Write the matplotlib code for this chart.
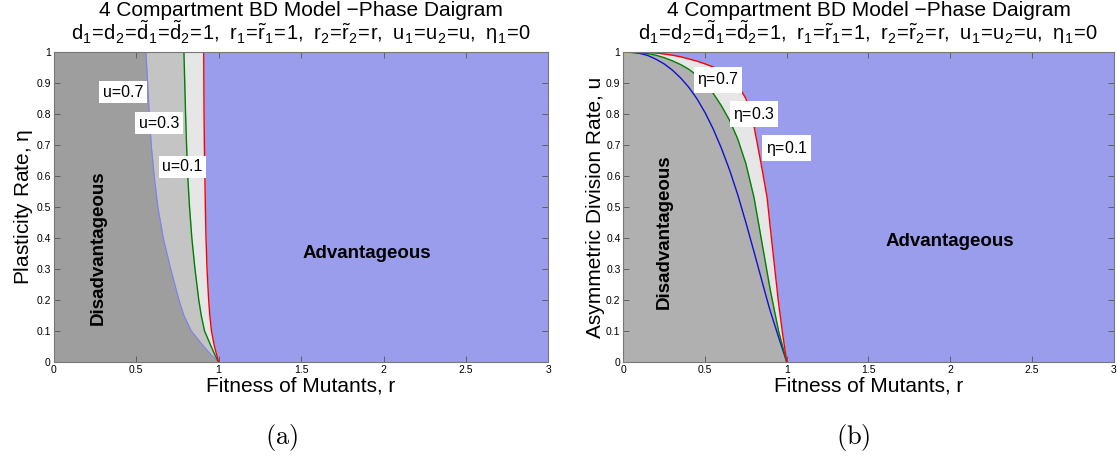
import numpy as np
import matplotlib
matplotlib.use("Agg")
import matplotlib.pyplot as plt

plt.rcParams['font.family'] = ['Liberation Sans', 'DejaVu Sans']

# ── (a) boundary r(eta) for each asymmetric division rate u ──────────────────
ETA_GRID = [0, 0.02, 0.05, 0.1, 0.15, 0.2, 0.3, 0.4, 0.5, 0.6, 0.7, 0.8, 0.9, 1.0]
R_U07 = [1.0, 0.96, 0.91, 0.835, 0.79, 0.76, 0.71, 0.665, 0.632, 0.61, 0.592, 0.58, 0.57, 0.56]
R_U03 = [1.0, 0.98, 0.955, 0.915, 0.895, 0.88, 0.857, 0.838, 0.824, 0.813, 0.806, 0.8, 0.795, 0.79]
R_U01 = [1.0, 0.99, 0.975, 0.957, 0.947, 0.94, 0.93, 0.924, 0.92, 0.917, 0.914, 0.912, 0.911, 0.91]

# ── (b) boundary u(r) for each plasticity rate eta ───────────────────────────
R_GRID = [0, 0.05, 0.1, 0.15, 0.2, 0.25, 0.3, 0.35, 0.4, 0.45, 0.5, 0.55, 0.6,
          0.65, 0.7, 0.75, 0.8, 0.85, 0.88, 0.9, 0.95, 0.975, 1.0]
U_ETA07 = [1, 0.999, 0.996, 0.989, 0.977, 0.962, 0.942, 0.917, 0.887, 0.850, 0.805,
           0.752, 0.69, 0.62, 0.54, 0.45, 0.355, 0.258, 0.20, 0.163, 0.08, 0.04, 0]
U_ETA03 = [1, 1.0, 0.998, 0.995, 0.99, 0.982, 0.972, 0.96, 0.945, 0.925, 0.90,
           0.867, 0.827, 0.78, 0.72, 0.64, 0.53, 0.38, 0.29, 0.23, 0.10, 0.05, 0]
U_ETA01 = [1, 1, 1.0, 0.999, 0.997, 0.994, 0.99, 0.985, 0.978, 0.971, 0.962,
           0.952, 0.94, 0.92, 0.895, 0.85, 0.76, 0.62, 0.53, 0.43, 0.19, 0.09, 0]

X_TICKS = [0, 0.5, 1, 1.5, 2, 2.5, 3]
X_TICKLABELS = ["0", "0.5", "1", "1.5", "2", "2.5", "3"]
Y_TICKS = [0, 0.1, 0.2, 0.3, 0.4, 0.5, 0.6, 0.7, 0.8, 0.9, 1]
Y_TICKLABELS = ["0", "0.1", "0.2", "0.3", "0.4", "0.5", "0.6", "0.7", "0.8", "0.9", "1"]

LABELS_A = ["u=0.7", "u=0.3", "u=0.1"]
LABELS_B = [r"$\mathregular{\eta}$=0.7", r"$\mathregular{\eta}$=0.3", r"$\mathregular{\eta}$=0.1"]

TITLE = "4 Compartment BD Model \u2212Phase Daigram"
SUBTITLE = (r"$\mathregular{d_1\!=\!d_2\!=\!\tilde{d}_1\!=\!\tilde{d}_2\!=\!1,\ "
            r"r_1\!=\!\tilde{r}_1\!=\!1,\ r_2\!=\!\tilde{r}_2\!=\!r,\ "
            r"u_1\!=\!u_2\!=\!u,\ \eta_1\!=\!0}$")

BLUE_BG = "#9a9cec"
LIGHT = "#e6e6e6"


def style_axes(ax, ylabel):
    ax.set_xlim(0, 3)
    ax.set_ylim(0, 1)
    ax.set_xticks(X_TICKS)
    ax.set_xticklabels(X_TICKLABELS)
    ax.set_yticks(Y_TICKS)
    ax.set_yticklabels(Y_TICKLABELS)
    ax.tick_params(direction="in", length=4, width=0.6, colors="#555555",
                   labelcolor="black", labelsize=7.5, top=True, right=True, pad=2)
    for s in ax.spines.values():
        s.set_color("#777777")
        s.set_linewidth(0.8)
    ax.set_xlabel("Fitness of Mutants, r", fontsize=15, labelpad=1)
    ax.set_ylabel(ylabel, fontsize=15, labelpad=1)
    # two-line title, each line pinned to its own baseline
    ax.text(0.5, 1.118, TITLE, transform=ax.transAxes, fontsize=15,
            ha="center", va="baseline")
    ax.text(0.5, 1.038, SUBTITLE, transform=ax.transAxes, fontsize=14.5,
            ha="center", va="baseline")


fig = plt.figure(figsize=(11.17, 4.57), dpi=100)
ax1 = fig.add_axes([0.048, 0.208, 0.443, 0.678])
ax2 = fig.add_axes([0.558, 0.208, 0.439, 0.678])

# (a) Plasticity rate vs fitness
eta = np.array(ETA_GRID)
ax1.set_facecolor(BLUE_BG)
ax1.fill_betweenx(eta, 0, R_U07, color="#9e9e9e", lw=0)
ax1.fill_betweenx(eta, R_U07, R_U03, color="#c4c4c4", lw=0)
ax1.fill_betweenx(eta, R_U03, R_U01, color=LIGHT, lw=0)
ax1.plot(R_U07, eta, color="#7f7fee", lw=0.8)
ax1.plot(R_U03, eta, color="#008000", lw=1.0)
ax1.plot(R_U01, eta, color="#ff0000", lw=1.0)
box = dict(facecolor="white", edgecolor="none", pad=2.5)
for (x, y), txt in zip([(0.42, 0.87), (0.64, 0.77), (0.78, 0.63)], LABELS_A):
    ax1.text(x, y, txt, fontsize=11.5, ha="center", va="center", bbox=box)
ax1.text(0.27, 0.37, "Disadvantageous", rotation=90, fontsize=13.5,
         fontweight="bold", ha="center", va="center")
ax1.text(1.9, 0.35, "Advantageous", fontsize=13.5, fontweight="bold",
         ha="center", va="center")
style_axes(ax1, r"Plasticity Rate, $\mathregular{\eta}$")

# (b) Asymmetric division rate vs fitness
r = np.array(R_GRID)
ax2.set_facecolor(BLUE_BG)
ax2.fill_between(r, 0, U_ETA03, color="#b0b0b0", lw=0)
ax2.fill_between(r, U_ETA03, U_ETA01, color=LIGHT, lw=0)
ax2.plot(r, U_ETA07, color="#1010d0", lw=1.0)
ax2.plot(r, U_ETA03, color="#008000", lw=1.0)
ax2.plot(r, U_ETA01, color="#ff0000", lw=1.0)
for (x, y), txt in zip([(0.58, 0.91), (0.80, 0.80), (1.0, 0.69)], LABELS_B):
    ax2.text(x, y, txt, fontsize=11.5, ha="center", va="center", bbox=box)
ax2.text(0.25, 0.42, "Disadvantageous", rotation=90, fontsize=13.5,
         fontweight="bold", ha="center", va="center")
ax2.text(2.0, 0.39, "Advantageous", fontsize=13.5, fontweight="bold",
         ha="center", va="center")
style_axes(ax2, "Asymmetric Division Rate, u")

fig.text(0.252, 0.043, r"$\mathrm{(a)}$", fontsize=19, ha="center", va="center",
         math_fontfamily="cm")
fig.text(0.764, 0.043, r"$\mathrm{(b)}$", fontsize=19, ha="center", va="center",
         math_fontfamily="cm")

fig.savefig("out.png", dpi=100)
